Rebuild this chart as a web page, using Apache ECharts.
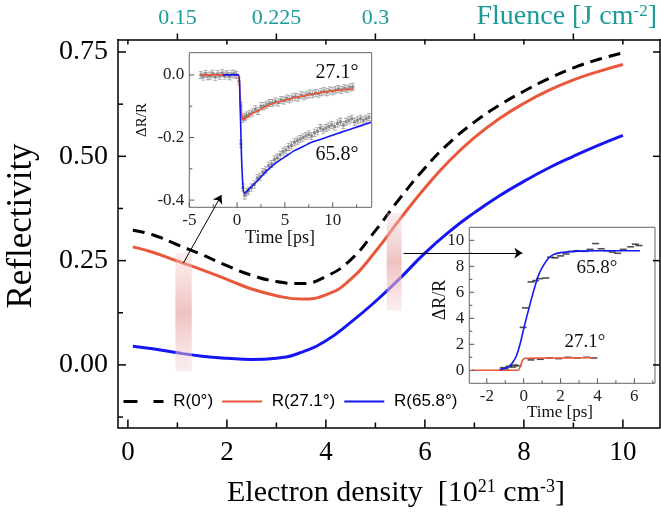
<!DOCTYPE html>
<html><head><meta charset="utf-8">
<script src="https://cdn.jsdelivr.net/npm/echarts@6/dist/echarts.min.js"></script>
<style>html,body{margin:0;padding:0;background:#fff}#c{width:661px;height:513px}</style>
</head><body><div id="c"></div>
<script>
// ---- main chart data (electron density in 1e21 cm^-3) ----
const density = [0.1,0.5,1.0,1.5,2.0,2.5,3.0,3.5,4.0,4.5,5.0,5.5,6.0,6.5,7.0,7.5,8.0,8.5,9.0,9.5,10.0];
const R0   = [0.323,0.312,0.288,0.264,0.238,0.215,0.200,0.195,0.212,0.252,0.322,0.400,0.472,0.533,0.582,0.622,0.656,0.686,0.712,0.732,0.748];
const R27  = [0.283,0.270,0.249,0.228,0.205,0.182,0.166,0.158,0.168,0.205,0.272,0.350,0.424,0.490,0.545,0.590,0.627,0.658,0.683,0.703,0.720];
const R66  = [0.045,0.039,0.029,0.021,0.016,0.013,0.016,0.030,0.058,0.102,0.152,0.208,0.268,0.320,0.365,0.405,0.440,0.472,0.500,0.526,0.550];
const seriesNames = ['R(0°)','R(27.1°)','R(65.8°)'];
const xTickLabels = [0,2,4,6,8,10];
const xMinorTicks = [1,3,5,7,9];
const yTickLabels = [0,0.25,0.5,0.75];
const yMinorTicks = [-0.125,0.125,0.375,0.625];
const fluencePos = [1,3,5];
const fluenceLabels = ['0.15','0.225','0.3'];
const fluenceTicks = [1,3,5,7,9];
// highlighted bands [x0,x1,yTop,yBottom]
const bandX0 = [0.96,5.23];
const bandX1 = [1.29,5.53];
const bandTop = [0.268,0.364];
const bandBottom = [-0.016,0.13];
// arrows in main data coords
const arrowFrom = [[1.12,0.244],[5.57,0.268]];
const arrowTo = [[1.89,0.407],[7.97,0.268]];

// ---- inset 1 (ΔR/R vs time, decay) ----
const preT = [-3.8,-3.55,-3.3,-3.05,-2.8,-2.55,-2.3,-2.05,-1.8,-1.55,-1.3,-1.05,-0.8,-0.55,-0.3,-0.05,0.2];
const preV = [0.0,-0.005,0.003,-0.004,-0.002,0.004,-0.006,0.002,-0.003,0.005,-0.002,0.003,-0.004,0.002,0.004,0.0,-0.02];
const d27T = [0.4,0.6,0.8,1.0,1.3,1.6,1.9,2.2,2.5,2.8,3.1,3.4,3.7,4.0,4.3,4.6,4.9,5.2,5.5,5.8,6.1,6.4,6.7,7.0,7.3,7.6,7.9,8.2,8.5,8.8,9.1,9.4,9.7,10.0,10.3,10.6,10.9,11.2,11.5,11.8,12.1];
const d27V = [-0.10,-0.14,-0.135,-0.13,-0.125,-0.12,-0.11,-0.115,-0.10,-0.10,-0.095,-0.09,-0.09,-0.085,-0.088,-0.08,-0.082,-0.075,-0.078,-0.072,-0.07,-0.072,-0.065,-0.068,-0.063,-0.06,-0.062,-0.058,-0.06,-0.055,-0.052,-0.055,-0.05,-0.052,-0.048,-0.045,-0.048,-0.042,-0.045,-0.04,-0.038];
const d66T = [0.4,0.6,0.8,1.0,1.2,1.5,1.8,2.1,2.4,2.7,3.0,3.3,3.6,3.9,4.2,4.5,4.8,5.1,5.4,5.7,6.0,6.3,6.6,6.9,7.2,7.5,7.8,8.1,8.4,8.7,9.0,9.3,9.6,9.9,10.2,10.5,10.8,11.1,11.4,11.7,12.0,12.3,12.6,12.9,13.2,13.5,13.8];
const d66V = [-0.22,-0.36,-0.385,-0.375,-0.37,-0.36,-0.35,-0.33,-0.325,-0.31,-0.305,-0.29,-0.285,-0.27,-0.265,-0.255,-0.245,-0.24,-0.23,-0.225,-0.215,-0.21,-0.205,-0.2,-0.195,-0.19,-0.195,-0.185,-0.18,-0.17,-0.175,-0.17,-0.165,-0.16,-0.165,-0.155,-0.15,-0.16,-0.15,-0.145,-0.14,-0.15,-0.145,-0.14,-0.145,-0.14,-0.135];
const fit27T = [-3.8,0.1,0.3,0.5,0.65,0.9,1.5,2.0,3.0,4.0,5.0,6.0,7.0,8.0,9.0,10.0,11.0,12.2];
const fit27V = [0,0,-0.06,-0.13,-0.144,-0.138,-0.125,-0.117,-0.101,-0.089,-0.081,-0.073,-0.067,-0.061,-0.055,-0.051,-0.048,-0.045];
const fit66T = [-1.5,0.15,0.3,0.45,0.6,0.75,1.0,1.5,2.0,3.0,4.0,5.0,6.0,7.0,8.0,9.0,10.0,11.0,12.0,13.0,14.0];
const fit66V = [0,0,-0.08,-0.25,-0.35,-0.379,-0.372,-0.357,-0.342,-0.31,-0.283,-0.262,-0.242,-0.227,-0.213,-0.203,-0.193,-0.182,-0.172,-0.162,-0.151];
const in1XLabels = [-5,0,5,10];
const in1XMinor = [-2.5,2.5,7.5,12.5];
const in1YLabels = [-0.4,-0.2,0];
const in1YMinor = [-0.3,-0.1];

// ---- inset 2 (ΔR/R vs time, rise) ----
const r66T = [-1.1,-0.8,-0.5,-0.03,0.09,0.4,0.65,0.85,1.2,1.45,1.7,2.0,2.3,2.6,2.9,3.3,3.6,3.9,4.2,4.5,4.8,5.1,5.4,5.8,6.05,6.25];
const r66V = [0.2,0.3,0.4,3.3,4.8,6.8,6.9,7.05,7.1,8.7,8.65,8.8,8.95,9.15,9.2,9.15,9.3,9.75,9.35,9.2,9.1,9.0,9.3,9.5,9.7,9.6];
const r27T = [-1.0,-0.6,-0.3,0.4,0.9,1.4,1.9,2.4,2.9,3.4,3.8];
const r27V = [0.1,0.25,0.35,0.8,0.85,0.95,0.9,1.0,0.95,1.0,0.95];
const rfit66T = [-1.3,-1.0,-0.8,-0.6,-0.4,-0.2,0,0.2,0.4,0.6,0.8,1.0,1.3,1.6,2.0,2.5,3,4,5,6.3];
const rfit66V = [0.05,0.15,0.3,0.6,1.1,2.0,3.2,4.3,5.4,6.4,7.3,7.9,8.55,8.9,9.05,9.12,9.17,9.2,9.2,9.2];
const rfit27T = [-2.8,-0.3,-0.2,-0.1,0.0,0.1,1,2,3,3.8];
const rfit27V = [0,0,0.25,0.65,0.88,0.93,0.94,0.95,0.96,0.97];
const in2XLabels = [-2,0,2,4,6];
const in2XMinor = [-1,1,3,5,7];
const in2YLabels = [0,2,4,6,8,10];
const in2YMinor = [1,3,5,7,9];

const zip = (a,b) => a.map((v,i)=>[v,b[i]]);
const SERIF = 'Liberation Serif';
const RED = '#ea583c', BLUE = '#1616f2', TEAL = '#1b9a98';
const IBEAM = 'path://M0,0h5v1h-2v8h2v1h-5v-1h2v-8h-2z';

// tick rows: [side(0 bottom,1 top,2 left,3 right), value, length(+ inward, - outward)]
const rows = (side, vals, len) => vals.map(v=>[side, v, len]);
const mainTicks = [].concat(rows(0,xTickLabels,8), rows(0,xMinorTicks,5), rows(1,fluenceTicks,-6), rows(1,xTickLabels,5),
  rows(2,yTickLabels,8), rows(2,yMinorTicks,5), rows(3,yTickLabels,7));
const in1Ticks = [].concat(rows(0,in1XLabels,5), rows(0,in1XMinor,3), rows(2,in1YLabels,5), rows(2,in1YMinor,3));
const in2Ticks = [].concat(rows(0,in2XLabels,5), rows(0,in2XMinor,3), rows(2,in2YLabels,5), rows(2,in2YMinor,3));

function tickSeries(xi, yi, data, color, width){
  return {type:'custom', xAxisIndex:xi, yAxisIndex:yi, z:15, silent:true, clip:false,
    encode:{x:-1, y:-1}, data,
    renderItem:(params, api)=>{
      const side = api.value(0), v = api.value(1), len = api.value(2);
      const cs = params.coordSys;
      let s;
      if (side===0){ const px = api.coord([v, 0])[0]; s={x1:px,y1:cs.y+cs.height,x2:px,y2:cs.y+cs.height-len}; }
      else if (side===1){ const px = api.coord([v, 0])[0]; s={x1:px,y1:cs.y,x2:px,y2:cs.y+len}; }
      else if (side===2){ const py = api.coord([0, v])[1]; s={x1:cs.x,y1:py,x2:cs.x+len,y2:py}; }
      else { const py = api.coord([0, v])[1]; s={x1:cs.x+cs.width,y1:py,x2:cs.x+cs.width-len,y2:py}; }
      return {type:'line', shape:s, style:{stroke:color, lineWidth:width}};
    }};
}

function ax(o){
  const base = {type:'value', splitLine:{show:false}, axisTick:{show:false}, axisLabel:{show:false}};
  const r = Object.assign(base, o);
  r.axisLine = Object.assign({show:false}, o.axisLine || {}, {onZero:false});
  return r;
}

const chart = echarts.init(document.getElementById('c'), null, {renderer:'canvas'});
const option = {
  animation:false,
  backgroundColor:'#fff',
  grid:[
    {left:118, top:39.5, width:542, height:388},
    {left:189.3, top:52.7, width:182.4, height:154.6, show:true, backgroundColor:'#fff', borderColor:'#666', borderWidth:1},
    {left:469.3, top:227.3, width:185.7, height:156, show:true, backgroundColor:'#fff', borderColor:'#666', borderWidth:1}
  ],
  xAxis:[
    ax({gridIndex:0, position:'bottom', min:-0.2, max:10.75,
      axisLine:{show:true, lineStyle:{color:'#000', width:1.5}},
      axisLabel:{show:true, customValues:xTickLabels, margin:12, fontFamily:SERIF, fontSize:27, color:'#000'}}),
    ax({gridIndex:0, position:'top', min:-0.2, max:10.75,
      axisLine:{show:true, lineStyle:{color:'#000', width:1.5}},
      axisLabel:{show:true, customValues:fluencePos, margin:10, fontFamily:SERIF, fontSize:22, color:TEAL,
        formatter:v=>fluenceLabels[fluencePos.indexOf(Math.round(v))] || ''}}),
    ax({gridIndex:1, position:'bottom', min:-5, max:14.08,
      axisLabel:{show:true, customValues:in1XLabels, margin:5, fontFamily:SERIF, fontSize:17, color:'#222'}}),
    ax({gridIndex:2, position:'bottom', min:-2.95, max:7.12,
      axisLabel:{show:true, customValues:in2XLabels, margin:5, fontFamily:SERIF, fontSize:17, color:'#222'}})
  ],
  yAxis:[
    ax({gridIndex:0, position:'left', min:-0.15, max:0.78,
      axisLine:{show:true, lineStyle:{color:'#000', width:1.5}},
      axisLabel:{show:true, customValues:yTickLabels, margin:10, fontFamily:SERIF, fontSize:28, color:'#000', formatter:v=>v.toFixed(2)}}),
    ax({gridIndex:0, position:'right', min:-0.15, max:0.78,
      axisLine:{show:true, lineStyle:{color:'#000', width:1.5}}}),
    ax({gridIndex:1, position:'left', min:-0.423, max:0.071,
      axisLabel:{show:true, customValues:in1YLabels, margin:5, fontFamily:SERIF, fontSize:17, color:'#222', formatter:v=>v.toFixed(1)}}),
    ax({gridIndex:2, position:'left', min:-1, max:11,
      axisLabel:{show:true, customValues:in2YLabels, margin:5, fontFamily:SERIF, fontSize:17, color:'#222'}})
  ],
  legend:{
    left:117, top:388, itemWidth:40, itemHeight:12, itemGap:8,
    textStyle:{fontFamily:'Liberation Sans', fontSize:17, color:'#000'},
    itemStyle:{color:'rgba(0,0,0,0)', borderWidth:0, opacity:0},
    formatter:' {name}',
    data:[
      {name:seriesNames[0], lineStyle:{type:[14,16], width:3}},
      {name:seriesNames[1]},
      {name:seriesNames[2]}
    ]
  },
  series:[
    {name:seriesNames[0], type:'line', xAxisIndex:0, yAxisIndex:0, data:zip(density,R0), smooth:true, symbol:'none',
      lineStyle:{color:'#000', width:3, type:[12,7]}, itemStyle:{color:'#000'}, z:3},
    {name:seriesNames[1], type:'line', xAxisIndex:0, yAxisIndex:0, data:zip(density,R27), smooth:true, symbol:'none',
      lineStyle:{color:RED, width:3}, itemStyle:{color:RED}, z:3},
    {name:seriesNames[2], type:'line', xAxisIndex:0, yAxisIndex:0, data:zip(density,R66), smooth:true, symbol:'none',
      lineStyle:{color:BLUE, width:3}, itemStyle:{color:BLUE}, z:3},
    {type:'custom', xAxisIndex:0, yAxisIndex:0, z:6, silent:true,
      encode:{x:[0,1], y:[2,3]},
      data:bandX0.map((v,i)=>[v,bandX1[i],bandTop[i],bandBottom[i]]),
      renderItem:(params, api)=>{
        const p0 = api.coord([api.value(0), api.value(2)]);
        const p1 = api.coord([api.value(1), api.value(3)]);
        return {type:'rect', shape:{x:p0[0], y:p0[1], width:p1[0]-p0[0], height:p1[1]-p0[1]},
          style:{fill:new echarts.graphic.LinearGradient(0,0,0,1,[
            {offset:0, color:'rgba(242,205,205,0.35)'},
            {offset:0.5, color:'rgba(236,175,175,0.78)'},
            {offset:1, color:'rgba(242,205,205,0.35)'}])}};
      }},
    {type:'lines', coordinateSystem:'cartesian2d', xAxisIndex:0, yAxisIndex:0, z:20, silent:true,
      symbol:['none','arrow'], symbolSize:8,
      lineStyle:{color:'#000', width:1, opacity:1},
      data:arrowFrom.map((p,i)=>({coords:[p, arrowTo[i]]}))},
    // inset 1
    {type:'scatter', xAxisIndex:2, yAxisIndex:2, symbol:IBEAM, symbolSize:[4,8], itemStyle:{color:'#8a8a8a'}, z:5, silent:true,
      data:zip(preT,preV).concat(zip(d27T,d27V), zip(d66T,d66V))},
    {type:'scatter', xAxisIndex:2, yAxisIndex:2, symbol:'rect', symbolSize:3, itemStyle:{color:'#777'}, z:5, silent:true,
      data:zip(preT,preV).concat(zip(d27T,d27V), zip(d66T,d66V))},
    {type:'line', xAxisIndex:2, yAxisIndex:2, data:zip(fit27T,fit27V), smooth:0.3, symbol:'none', lineStyle:{color:RED, width:1.6}, z:7},
    {type:'line', xAxisIndex:2, yAxisIndex:2, data:zip(fit66T,fit66V), smooth:0.3, symbol:'none', lineStyle:{color:BLUE, width:1.6}, z:8},
    // inset 2
    {type:'scatter', xAxisIndex:3, yAxisIndex:3, symbol:'rect', symbolSize:[7,1.6], itemStyle:{color:'#222'}, z:5, silent:true,
      data:zip(r66T,r66V).concat(zip(r27T,r27V))},
    {type:'line', xAxisIndex:3, yAxisIndex:3, data:zip(rfit27T,rfit27V), smooth:0.3, symbol:'none', lineStyle:{color:RED, width:1.6}, z:7},
    {type:'line', xAxisIndex:3, yAxisIndex:3, data:zip(rfit66T,rfit66V), smooth:0.3, symbol:'none', lineStyle:{color:BLUE, width:1.6}, z:8},
    // ticks
    tickSeries(0, 0, mainTicks, '#000', 1.5),
    tickSeries(2, 2, in1Ticks, '#555', 1),
    tickSeries(3, 3, in2Ticks, '#555', 1)
  ],
  graphic:[
    {type:'text', x:22, y:226, rotation:Math.PI/2, style:{text:'Reflectivity', fontFamily:SERIF, fontSize:35, fill:'#000', align:'center', verticalAlign:'middle'}},
    {type:'text', x:396, y:493, style:{text:'Electron density  [10{s|21} cm{s|-3}]', fontFamily:SERIF, fontSize:30, fill:'#000', align:'center', verticalAlign:'middle',
      rich:{s:{fontFamily:SERIF, fontSize:18, verticalAlign:'top', padding:[0,0,10,0]}}}},
    {type:'text', x:657, y:17, style:{text:'Fluence [J cm{s|-2}]', fontFamily:SERIF, fontSize:28, fill:TEAL, align:'right', verticalAlign:'middle',
      rich:{s:{fontFamily:SERIF, fontSize:17, fill:TEAL, verticalAlign:'top', padding:[0,0,10,0]}}}},
    {type:'text', x:337, y:73, style:{text:'27.1°', fontFamily:SERIF, fontSize:20, fill:'#111', align:'center', verticalAlign:'middle'}},
    {type:'text', x:337, y:155, style:{text:'65.8°', fontFamily:SERIF, fontSize:20, fill:'#111', align:'center', verticalAlign:'middle'}},
    {type:'text', x:597, y:268, style:{text:'65.8°', fontFamily:SERIF, fontSize:19, fill:'#111', align:'center', verticalAlign:'middle'}},
    {type:'text', x:585, y:342, style:{text:'27.1°', fontFamily:SERIF, fontSize:19, fill:'#111', align:'center', verticalAlign:'middle'}},
    {type:'text', x:142, y:120, rotation:Math.PI/2, style:{text:'ΔR/R', fontFamily:SERIF, fontSize:15, fill:'#111', align:'center', verticalAlign:'middle'}},
    {type:'text', x:440, y:300, rotation:Math.PI/2, style:{text:'ΔR/R', fontFamily:SERIF, fontSize:18, fill:'#111', align:'center', verticalAlign:'middle'}},
    {type:'text', x:280, y:238, style:{text:'Time [ps]', fontFamily:SERIF, fontSize:18, fill:'#111', align:'center', verticalAlign:'middle'}},
    {type:'text', x:560, y:413, style:{text:'Time [ps]', fontFamily:SERIF, fontSize:17, fill:'#111', align:'center', verticalAlign:'middle'}}
  ]
};
chart.setOption(option);
</script>
</body></html>
